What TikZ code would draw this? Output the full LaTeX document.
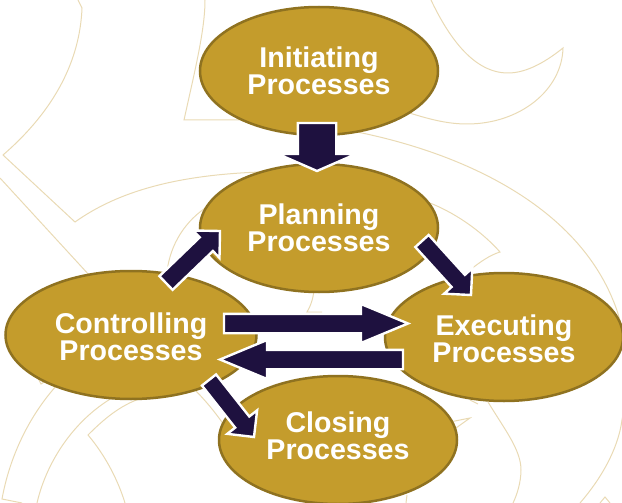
\documentclass[tikz,border=0pt]{standalone}
\usepackage{fontspec}
\setmainfont{Liberation Sans}
\usetikzlibrary{shapes.geometric,calc}
\definecolor{goldfill}{HTML}{C49C2C}
\definecolor{goldedge}{HTML}{8F7220}
\definecolor{navyarrow}{HTML}{1E113F}
\definecolor{paleline}{HTML}{E9DAB4}
\tikzset{
  process/.style={ellipse,draw=goldedge,fill=goldfill,line width=2.5pt,inner sep=0pt,
    minimum width=238pt,minimum height=128pt,text=white,align=center,
    font=\fontsize{28.6}{27}\bfseries\selectfont},
  blockarrow/.style={fill=navyarrow,draw=white,line width=2.4pt,line join=miter,miter limit=10},
  backline/.style={draw=paleline,line width=1pt,line join=miter}
}
% #1 tail, #2 tip, #3 shaft width, #4 head width, #5 head length
\newcommand{\blockarrowdraw}[5]{%
  \coordinate (hb) at ($(#2)!#5pt!(#1)$);
  \draw[blockarrow]
    ($(#1)!#3pt/2!90:(#2)$) -- ($(hb)!#3pt/2!90:(#2)$) -- ($(hb)!#4pt/2!90:(#2)$) -- (#2)
    -- ($(hb)!#4pt/2!-90:(#2)$) -- ($(hb)!#3pt/2!-90:(#2)$) -- ($(#1)!#3pt/2!-90:(#2)$) -- cycle;
}
\newcommand{\lowerby}[1]{\rule{0pt}{#1pt}}
\newcommand{\raiseby}[1]{\rule[-#1pt]{0pt}{#1pt}}
\begin{document}
\begin{tikzpicture}[x=1pt,y=-1pt]
\useasboundingbox (0,0) rectangle (622,503);
\clip (0,0) rectangle (622,503);
% background watermark
\draw[backline] (78,0) -- (82,8) .. controls (80,60) and (55,110) .. (3,155) -- (75,222) .. controls (120,190) and (180,175) .. (260,172);
\draw[backline] (205,0) .. controls (205,30) and (195,70) .. (184,120) -- (245,120);
\draw[backline] (0,178) -- (90,276);
\draw[backline] (167,272) .. controls (170,245) and (185,220) .. (210,205);
\draw[backline] (431,0) .. controls (450,40) and (475,73) .. (508,73) .. controls (528,73) and (548,60) .. (563,48) .. controls (562,90) and (520,124) .. (467,124) .. controls (445,124) and (425,118) .. (400,110);
\draw[backline] (335,128) .. controls (440,145) and (570,195) .. (613,300) .. controls (630,340) and (628,390) .. (622,420) .. controls (618,450) and (600,480) .. (580,503);
\draw[backline] (430,203) .. controls (460,215) and (485,235) .. (500,252) .. controls (490,255) and (480,262) .. (470,270);
\draw[backline] (488,402) .. controls (505,430) and (521,450) .. (521,470) .. controls (521,482) and (517,495) .. (513,503);
\draw[backline] (456,428) -- (470,418) -- (450,422);
\draw[backline] (470,400) -- (478,404);
\draw[backline] (600,503) -- (605,497) -- (610,503);
\draw[backline] (407,495) -- (406,503);
\draw[backline] (314,290) .. controls (313,300) and (310,307) .. (307,312) -- (322,312);
\draw[backline] (57,385) .. controls (30,415) and (10,455) .. (2,499) -- (22,503);
\draw[backline] (112,398) .. controls (75,420) and (47,460) .. (37,503);
\draw[backline] (142,398) .. controls (120,405) and (103,420) .. (88,435) .. controls (105,455) and (118,480) .. (125,503);
\draw[backline] (195,390) .. controls (205,400) and (215,412) .. (224,425);
\draw[backline] (38,378) -- (41,384) -- (47,380);
% processes
\node[process] (init) at (319,71) {Initiating\\Processes};
\node[process] (plan) at (319,228) {Planning\\Processes};
\node[process,minimum width=251pt] (ctrl) at (131,335) {\lowerby{25}Controlling\\Processes};
\node[process] (exec) at (504,337) {\lowerby{25}Executing\\Processes};
\node[process] (clos) at (338,440) {Closing\\Processes\raiseby{8}};
% connector ends
\coordinate (a1s) at ($(init)+(-2,52)$);   \coordinate (a1e) at ($(plan)+(-2,-57)$);
\coordinate (a2s) at ($(ctrl)+(35,-52)$);  \coordinate (a2e) at ($(plan)+(-99,3)$);
\coordinate (a3s) at ($(plan)+(103,13)$);  \coordinate (a3e) at ($(exec)+(-33,-42)$);
\coordinate (a4s) at ($(ctrl)+(93,-11.5)$);\coordinate (a4e) at ($(exec)+(-96,-13.5)$);
\coordinate (a5s) at ($(exec)+(-101,22.5)$);\coordinate (a5e) at ($(ctrl)+(89,24.5)$);
\coordinate (a6s) at ($(ctrl)+(78,45)$);   \coordinate (a6e) at ($(clos)+(-84,-3)$);
% arrows
\blockarrowdraw{a1s}{a1e}{38.4}{78}{17}
\blockarrowdraw{a2s}{a2e}{19}{38}{19}
\blockarrowdraw{a3s}{a3e}{18}{38}{19}
\blockarrowdraw{a4s}{a4e}{19.4}{39}{47}
\blockarrowdraw{a5s}{a5e}{19.4}{39}{47}
\blockarrowdraw{a6s}{a6e}{18}{38}{19}
\end{tikzpicture}
\end{document}
